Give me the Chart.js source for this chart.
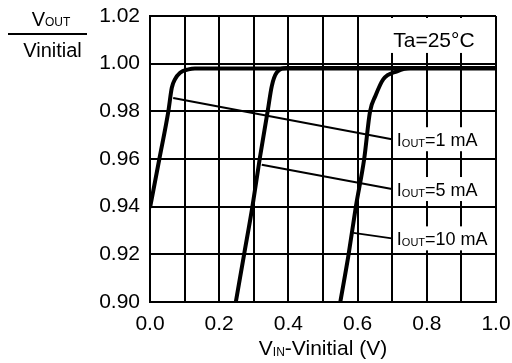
<!DOCTYPE html>
<html>
<head>
<meta charset="utf-8">
<script src="https://cdn.jsdelivr.net/npm/chart.js@4.4.1/dist/chart.umd.min.js"></script>
<style>
  html, body { margin: 0; padding: 0; background: #fff; }
  #wrap { width: 512px; height: 363px; }
</style>
</head>
<body>
<div id="wrap"><canvas id="chart" width="512" height="363"></canvas></div>
<script>
const FONT = 'Arial, "Liberation Sans", Helvetica, sans-serif';

// IOUT = 1 mA
const vin1 = [0.0, 0.027, 0.053, 0.063, 0.072, 0.087, 0.111, 0.13, 1.0];
const ratio1 = [0.9395, 0.96, 0.98, 0.9899, 0.9934, 0.9962, 0.9976, 0.998, 0.998];
// IOUT = 5 mA
const vin5 = [0.248, 0.272, 0.296, 0.317, 0.340, 0.352, 0.366, 0.395, 1.0];
const ratio5 = [0.90, 0.92, 0.94, 0.96, 0.98, 0.9906, 0.9962, 0.9982, 0.9982];
// IOUT = 10 mA
const vin10 = [0.550, 0.574, 0.595, 0.619, 0.636, 0.651, 0.674, 0.714, 0.752, 1.0];
const ratio10 = [0.90, 0.92, 0.94, 0.96, 0.98, 0.9863, 0.9934, 0.9968, 0.9982, 0.9982];

// leader lines from curves to labels
const leaderStartX = [0.067, 0.323, 0.588];
const leaderStartY = [0.9856, 0.9576, 0.9290];
const leaderEndX = 0.699;
const leaderEndY = [0.9683, 0.9474, 0.9267];
const labelValues = ["=1 mA", "=5 mA", "=10 mA"];

const xMin = 0, xMax = 1.0, xStep = 0.1;
const yMin = 0.90, yMax = 1.02, yStep = 0.02;
const noteText = "Ta=25°C";
const notePos = [0.703, 1.0102];

function toPoints(xs, ys) {
  return xs.map((x, i) => ({ x: x, y: ys[i] }));
}

const curveStyle = {
  borderColor: "#000",
  borderWidth: 4,
  pointRadius: 0,
  cubicInterpolationMode: "monotone",
  fill: false,
};

const datasets = [
  { ...curveStyle, data: toPoints(vin1, ratio1) },
  { ...curveStyle, data: toPoints(vin5, ratio5) },
  { ...curveStyle, data: toPoints(vin10, ratio10) },
];
leaderStartX.forEach((sx, i) => {
  datasets.push({
    data: [{ x: sx, y: leaderStartY[i] }, { x: leaderEndX, y: leaderEndY[i] }],
    borderColor: "#000",
    borderWidth: 2,
    pointRadius: 0,
    tension: 0,
  });
});

// draw text made of pieces, some smaller (subscripts)
function drawParts(ctx, x, y, parts) {
  let cx = x;
  for (const p of parts) {
    ctx.font = p.size + "px " + FONT;
    ctx.fillText(p.t, cx, y + (p.dy || 0));
    cx += ctx.measureText(p.t).width;
  }
  return cx;
}
function partsWidth(ctx, parts) {
  let w = 0;
  for (const p of parts) {
    ctx.font = p.size + "px " + FONT;
    w += ctx.measureText(p.t).width;
  }
  return w;
}

const labelsPlugin = {
  id: "labels",
  beforeDatasetsDraw(chart) {
    const { ctx, chartArea } = chart;
    const xs = chart.scales.x, ys = chart.scales.y;
    ctx.save();
    ctx.fillStyle = "#fff";
    // boxes that hide the grid behind the texts
    const x7 = xs.getPixelForValue(leaderEndX);
    leaderEndY.forEach((v) => {
      const py = ys.getPixelForValue(v);
      ctx.fillRect(x7 + 2, py - 12, chartArea.right - x7 - 4, 24);
    });
    const nx = xs.getPixelForValue(notePos[0]);
    ctx.fillRect(nx - 3, chartArea.top + 2, chartArea.right - nx + 1, ys.getPixelForValue(1.0045) - chartArea.top - 2);

    ctx.fillStyle = "#000";
    ctx.textBaseline = "alphabetic";
    ctx.textAlign = "left";
    leaderEndY.forEach((v, i) => {
      const py = ys.getPixelForValue(v);
      drawParts(ctx, x7 + 5, py + 7, [
        { t: "I", size: 18 },
        { t: "OUT", size: 11, dy: 1 },
        { t: labelValues[i], size: 18 },
      ]);
    });
    ctx.font = "21px " + FONT;
    ctx.fillText(noteText, nx, ys.getPixelForValue(notePos[1]) + 7.5);
    ctx.restore();
  },
  afterDraw(chart) {
    const { ctx, chartArea } = chart;
    ctx.save();
    ctx.fillStyle = "#000";
    ctx.textBaseline = "alphabetic";
    ctx.textAlign = "left";
    // x axis title
    const xt = [
      { t: "V", size: 21 },
      { t: "IN", size: 12, dy: 1 },
      { t: "-Vinitial (V)", size: 21 },
    ];
    const cx = (chartArea.left + chartArea.right) / 2;
    drawParts(ctx, cx - partsWidth(ctx, xt) / 2, 355, xt);
    // y axis title as a fraction
    const yt = [
      { t: "V", size: 20 },
      { t: "OUT", size: 12 },
    ];
    drawParts(ctx, 51 - partsWidth(ctx, yt) / 2, 26, yt);
    ctx.fillRect(8, 33, 79, 2);
    ctx.font = "20px " + FONT;
    ctx.textAlign = "center";
    ctx.fillText("Vinitial", 52.5, 57);
    ctx.restore();
  },
};

new Chart(document.getElementById("chart"), {
  type: "line",
  data: { datasets: datasets },
  options: {
    responsive: false,
    animation: false,
    devicePixelRatio: 1,
    layout: { padding: { top: 16, right: 16, left: 0, bottom: 0 } },
    plugins: { legend: { display: false }, tooltip: { enabled: false } },
    scales: {
      x: {
        type: "linear",
        min: xMin,
        max: xMax,
        afterFit: (scale) => {
          scale.height = 61;
          scale.paddingLeft = 0;
          scale.paddingRight = 0;
        },
        grid: { color: "#000", lineWidth: 2, drawTicks: false },
        border: { color: "#000", width: 2 },
        ticks: {
          stepSize: xStep,
          autoSkip: false,
          maxRotation: 0,
          padding: 10,
          color: "#000",
          font: { size: 21, family: FONT },
          callback: (v, i) => (i % 2 === 0 ? Number(v).toFixed(1) : ""),
        },
      },
      y: {
        type: "linear",
        min: yMin,
        max: yMax,
        afterFit: (scale) => {
          scale.width = 150;
          scale.paddingTop = 0;
          scale.paddingBottom = 0;
        },
        grid: { color: "#000", lineWidth: 2, drawTicks: false },
        border: { color: "#000", width: 2 },
        ticks: {
          stepSize: yStep,
          padding: 10,
          color: "#000",
          font: { size: 21, family: FONT },
          callback: (v) => Number(v).toFixed(2),
        },
      },
    },
  },
  plugins: [labelsPlugin],
});
</script>
</body>
</html>
